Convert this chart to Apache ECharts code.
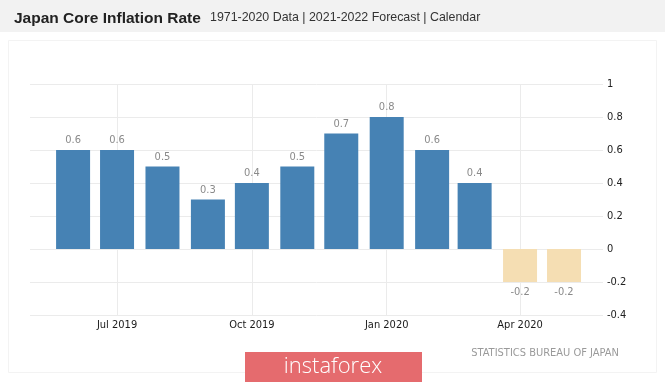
<!DOCTYPE html>
<html>
<head>
<meta charset="utf-8">
<script src="https://cdn.jsdelivr.net/npm/echarts@6/dist/echarts.min.js"></script>
<style>
html,body{margin:0;padding:0;background:#fff;}
#chart{width:665px;height:383px;}
</style>
</head>
<body>
<div id="chart"></div>
<script>
// Data
var months = ['2019-06-01','2019-07-01','2019-08-01','2019-09-01','2019-10-01','2019-11-01','2019-12-01','2020-01-01','2020-02-01','2020-03-01','2020-04-01','2020-05-01'];
var actualValues = [0.6, 0.6, 0.5, 0.3, 0.4, 0.5, 0.7, 0.8, 0.6, 0.4, null, null];
var forecastValues = [null, null, null, null, null, null, null, null, null, null, -0.2, -0.2];
var yTicks = [-0.4, -0.2, 0, 0.2, 0.4, 0.6, 0.8, 1];
var monthNames = ['Jan','Feb','Mar','Apr','May','Jun','Jul','Aug','Sep','Oct','Nov','Dec'];

function toTs(s){ var p = s.split('-'); return Date.UTC(+p[0], +p[1]-1, +p[2]); }
var actualData = months.map(function(m,i){ return [toTs(m), actualValues[i]]; });
var forecastData = months.map(function(m,i){ return [toTs(m), forecastValues[i]]; });

var SANS = '"Liberation Sans", Arial, sans-serif';
var COND = '"DejaVu Sans Condensed", sans-serif';

var DAY = 86400000;
// axis window (ECharts widens a time axis holding bars by barWidth/plotWidth; compensate)
var xMin = Date.UTC(2019,6,1) - 47.8*DAY;
var xMax = Date.UTC(2020,3,1) + 45*DAY;

var chart = echarts.init(document.getElementById('chart'), null, {renderer:'canvas'});
chart.setOption({
  animation: false,
  backgroundColor: '#ffffff',
  graphic: [
    {type:'rect', shape:{x:0,y:0,width:665,height:32}, style:{fill:'#f2f2f2'}, z:-10},
    {type:'rect', shape:{x:8.5,y:40.5,width:648,height:332}, style:{fill:'none', stroke:'#f3f3f3', lineWidth:1}, z:-10},
    {type:'rect', shape:{x:245,y:352,width:177,height:30}, style:{fill:'#e56b6e'}, z:10},
    {type:'text', x:333, y:367, style:{text:'instaforex', fill:'#ffffff', font:'300 22px "Open Sans", sans-serif', textAlign:'center', textVerticalAlign:'middle'}, z:11},
    {type:'text', x:619, y:353, style:{text:'STATISTICS BUREAU OF JAPAN', fill:'#9a9a9a', font:'11px ' + COND, textAlign:'right', textVerticalAlign:'middle'}, z:11}
  ],
  title: [
    {text:'Japan Core Inflation Rate', left:9, top:6, textStyle:{fontFamily:SANS, fontWeight:'bold', fontSize:15.5, color:'#222'}},
    {text:'1971-2020 Data | 2021-2022 Forecast | Calendar', left:205, top:7, textStyle:{fontFamily:SANS, fontWeight:'normal', fontSize:12.4, color:'#333'}}
  ],
  grid: {left:30, right:62, top:84, bottom:68, containLabel:false},
  xAxis: {
    type:'time',
    min: xMin,
    max: xMax,
    minInterval: 100*DAY,
    maxInterval: 100*DAY,
    axisLine:{show:false},
    axisTick:{show:false},
    splitLine:{show:true, showMinLine:false, showMaxLine:false, lineStyle:{color:'#ebebeb', width:1}},
    axisLabel:{
      color:'#1a1a1a', fontFamily:COND, fontSize:11, margin:5,
      formatter:function(v){ var d = new Date(v); return monthNames[d.getUTCMonth()] + ' ' + d.getUTCFullYear(); }
    }
  },
  yAxis: {
    type:'value',
    position:'right',
    min: yTicks[0], max: yTicks[yTicks.length-1], interval: 0.2,
    axisLine:{show:false},
    axisTick:{show:false},
    splitLine:{show:true, lineStyle:{color:'#ebebeb', width:1}},
    axisLabel:{color:'#222', fontFamily:COND, fontSize:11, margin:4,
      formatter:function(v){ return String(Math.round(v*10)/10); }}
  },
  series: [
    {
      type:'bar', name:'Actual', data: actualData, barWidth:34, barGap:'-100%',
      itemStyle:{color:'#4682b4'},
      label:{show:true, position:'top', distance:4, color:'#8a8a8a', fontFamily:COND, fontSize:11,
        formatter:function(p){ return p.value[1]; }}
    },
    {
      type:'bar', name:'Forecast', data: forecastData, barWidth:34, barGap:'-100%',
      itemStyle:{color:'#f5deb3'},
      label:{show:true, position:'bottom', distance:5, color:'#8a8a8a', fontFamily:COND, fontSize:11,
        formatter:function(p){ return p.value[1]; }}
    }
  ]
});
</script>
</body>
</html>
